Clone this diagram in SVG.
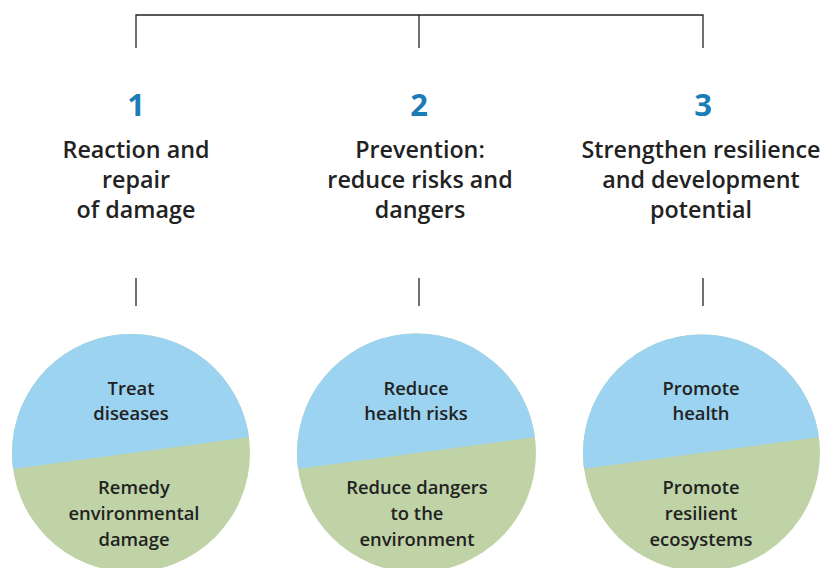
<svg xmlns="http://www.w3.org/2000/svg" width="824" height="568" viewBox="0 0 824 568">
<style>
.ln{stroke:#222;stroke-width:1.3;fill:none}
.num{font-family:"Open Sans","Liberation Sans",sans-serif;font-weight:700;font-size:31px;fill:#1b7db6;text-anchor:middle}
.ttl{font-family:"Open Sans","Liberation Sans",sans-serif;font-weight:600;font-size:23.3px;fill:#222;text-anchor:middle}
.ct{font-family:"Open Sans","Liberation Sans",sans-serif;font-weight:600;font-size:18.4px;fill:#222;text-anchor:middle}
.blue{fill:#9bd3f1}
.green{fill:#bfd3a7}
</style>
<rect width="824" height="568" fill="#fff"/>
<g id="connectors">
<path class="ln" d="M136 48V15H703V48M419 15V48"/>
<path class="ln" d="M136 278V306M419 278V306M703 278V306"/>
</g>
<g id="col1">
<text class="num" x="136" y="116">1</text>
<text class="ttl" x="136" y="158">Reaction and</text>
<text class="ttl" x="136" y="188">repair</text>
<text class="ttl" x="136" y="218">of damage</text>
</g>
<g id="col2">
<text class="num" x="419" y="116">2</text>
<text class="ttl" x="420" y="158">Prevention:</text>
<text class="ttl" x="420" y="188">reduce risks and</text>
<text class="ttl" x="420" y="218">dangers</text>
</g>
<g id="col3">
<text class="num" x="703" y="116">3</text>
<text class="ttl" x="701" y="158">Strengthen resilience</text>
<text class="ttl" x="701" y="188">and development</text>
<text class="ttl" x="701" y="218">potential</text>
</g>
<g id="circle1">
<clipPath id="c1"><circle cx="131" cy="453" r="119"/></clipPath>
<g clip-path="url(#c1)">
<rect class="green" x="0" y="320" width="270" height="260"/>
<path class="blue" d="M0 470.5L262 435.5V320H0Z"/>
</g>
<text class="ct" x="131" y="395">Treat</text>
<text class="ct" x="131" y="420">diseases</text>
<text class="ct" x="134" y="494">Remedy</text>
<text class="ct" x="134" y="520">environmental</text>
<text class="ct" x="134" y="546">damage</text>
</g>
<g id="circle2">
<clipPath id="c2"><circle cx="416.5" cy="453" r="119.5"/></clipPath>
<g clip-path="url(#c2)">
<rect class="green" x="285" y="320" width="270" height="260"/>
<path class="blue" d="M285 470.5L547 435.5V320H285Z"/>
</g>
<text class="ct" x="416" y="395">Reduce</text>
<text class="ct" x="416" y="420">health risks</text>
<text class="ct" x="417" y="494">Reduce dangers</text>
<text class="ct" x="417" y="520">to the</text>
<text class="ct" x="417" y="546">environment</text>
</g>
<g id="circle3">
<clipPath id="c3"><circle cx="701.5" cy="453" r="118.5"/></clipPath>
<g clip-path="url(#c3)">
<rect class="green" x="570" y="320" width="270" height="260"/>
<path class="blue" d="M570 470.5L832 435.5V320H570Z"/>
</g>
<text class="ct" x="701" y="395">Promote</text>
<text class="ct" x="701" y="420">health</text>
<text class="ct" x="701" y="494">Promote</text>
<text class="ct" x="701" y="520">resilient</text>
<text class="ct" x="701" y="546">ecosystems</text>
</g>
</svg>
